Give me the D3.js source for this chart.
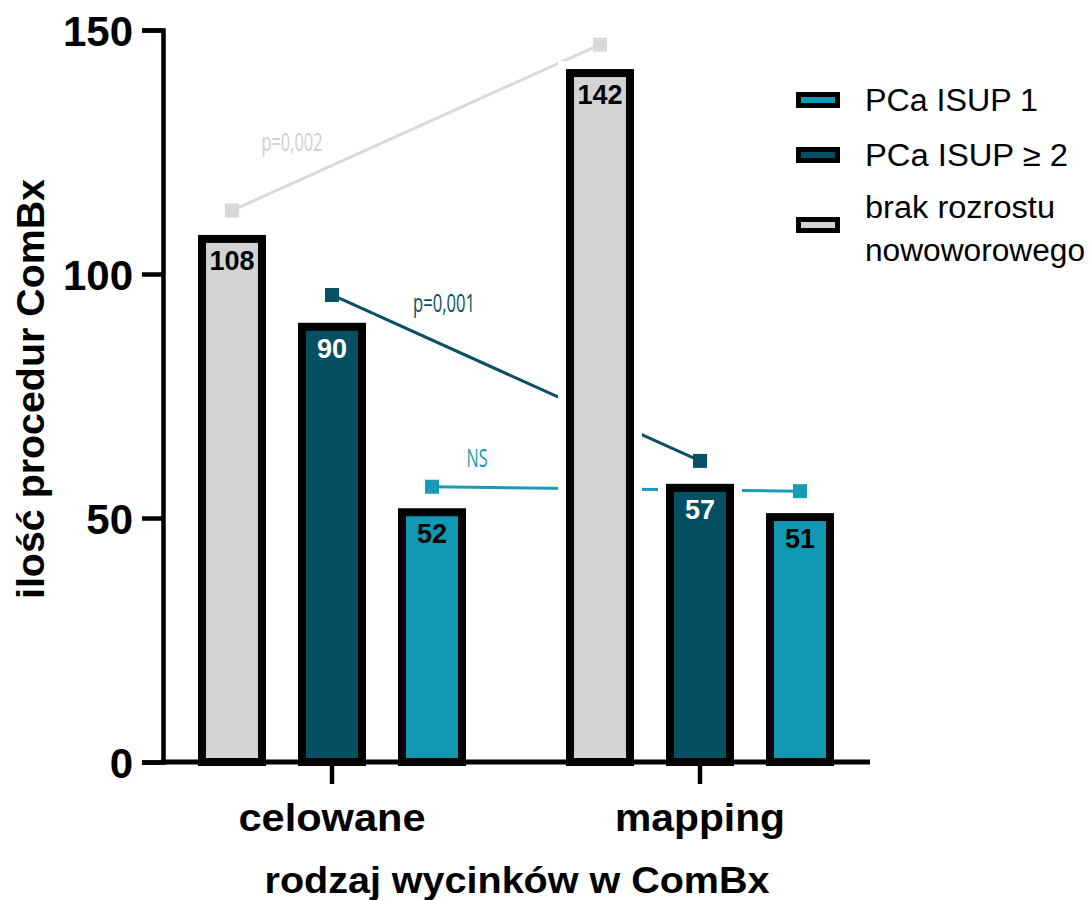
<!DOCTYPE html>
<html>
<head>
<meta charset="utf-8">
<script src="https://cdn.jsdelivr.net/npm/d3@7"></script>
<style>
  body { margin: 0; background: #fff; }
  svg { display: block; }
</style>
</head>
<body>
<svg id="chart" width="1090" height="900"></svg>
<script>
// ---- data ----
const categories = ["celowane", "mapping"];
const seriesKeys = ["brak", "isup2", "isup1"];
const seriesNames = ["brak rozrostu nowoworowego", "PCa ISUP ≥ 2", "PCa ISUP 1"];
const barBrak = [108, 142];
const barIsup2 = [90, 57];
const barIsup1 = [52, 51];
const lineBrak = [113, 147];
const lineIsup2 = [95.7, 61.7];
const lineIsup1 = [56.4, 55.5];
const pLabels = ["p=0,002", "p=0,001", "NS"];
const yTicks = [0, 50, 100, 150];
const legendKeys = ["isup1", "isup2", "brak"];
const legendLines = [["PCa ISUP 1"], ["PCa ISUP ≥ 2"], ["brak rozrostu", "nowoworowego"]];

const barData = { brak: barBrak, isup2: barIsup2, isup1: barIsup1 };
const lineData = { brak: lineBrak, isup2: lineIsup2, isup1: lineIsup1 };
const fills = { brak: "#d3d3d3", isup2: "#054f62", isup1: "#1199b3" };
const lineColors = { brak: "#d9d9d9", isup2: "#0a5064", isup1: "#189cb6" };
const labelColors = { brak: "#000", isup2: "#fff", isup1: "#000" };

const svg = d3.select("#chart");
const axisX = 163, baseY = 762, topY = 30, axisEnd = 870;

const y = d3.scaleLinear().domain([0, 150]).range([baseY, topY]);
const x0 = d3.scaleBand().domain(categories).range([148, 884]).padding(0);
const x1 = d3.scaleBand().domain(seriesKeys).range([-150, 150]).paddingInner(0.32).paddingOuter(0.16);
const cx = (c) => x0(c) + x0.bandwidth() / 2;
const border = 8;

// ---- connecting lines (behind bars) ----
const linesG = svg.append("g");
const lineGen = d3.line().x(d => d.x).y(d => y(d.v));
seriesKeys.forEach(k => {
  const pts = categories.map((c, i) => ({ x: cx(c) + x1(k) + x1.bandwidth() / 2, v: lineData[k][i] }));
  linesG.append("path").attr("d", lineGen(pts)).attr("fill", "none")
    .attr("stroke", lineColors[k]).attr("stroke-width", 3);
  linesG.selectAll(null).data(pts).join("rect")
    .attr("x", d => d.x - 7).attr("y", d => y(d.v) - 7)
    .attr("width", 14).attr("height", 14).attr("fill", lineColors[k]);
});

// p-value labels
const pInfo = [
  { text: pLabels[0], key: "brak", x: 292, v: 127.3, len: 61 },
  { text: pLabels[1], key: "isup2", x: 444, v: 94.3, len: 62 },
  { text: pLabels[2], key: "isup1", x: 477, v: 62.5, len: 21 }
];
svg.append("g").selectAll("text").data(pInfo).join("text")
  .attr("x", d => d.x).attr("y", d => y(d.v))
  .attr("text-anchor", "middle").attr("dominant-baseline", "central")
  .attr("font-family", "'Open Sans', 'Liberation Sans Narrow', sans-serif")
  .attr("font-size", 25)
  .attr("textLength", d => d.len).attr("lengthAdjust", "spacingAndGlyphs")
  .attr("fill", d => d.key === "brak" ? "#cfcfcf" : lineColors[d.key])
  .text(d => d.text);

// ---- bars ----
const bars = [];
categories.forEach((c, i) => seriesKeys.forEach(k => bars.push({ c, k, v: barData[k][i] })));
const barsG = svg.append("g");
// white halos hide lines near bars
barsG.selectAll("rect.halo").data(bars).join("rect").attr("class", "halo")
  .attr("x", d => cx(d.c) + x1(d.k) - 8)
  .attr("y", d => y(d.v) - 8)
  .attr("width", x1.bandwidth() + 16)
  .attr("height", d => baseY - y(d.v) + 8)
  .attr("fill", "#fff");
barsG.selectAll("rect.bar").data(bars).join("rect").attr("class", "bar")
  .attr("x", d => cx(d.c) + x1(d.k) + border / 2)
  .attr("y", d => y(d.v) + border / 2)
  .attr("width", x1.bandwidth() - border)
  .attr("height", d => baseY - y(d.v) - border / 2)
  .attr("fill", d => fills[d.k]).attr("stroke", "#000").attr("stroke-width", border);
barsG.selectAll("text").data(bars).join("text")
  .attr("x", d => cx(d.c) + x1(d.k) + x1.bandwidth() / 2)
  .attr("y", d => y(d.v) + 35)
  .attr("text-anchor", "middle")
  .attr("font-family", "'Liberation Sans', Arial, sans-serif")
  .attr("font-weight", "bold").attr("font-size", 27)
  .attr("fill", d => labelColors[d.k])
  .text(d => d.v);

// ---- axes ----
const yAxis = svg.append("g").attr("transform", `translate(${axisX},0)`)
  .call(d3.axisLeft(y).tickValues(yTicks).tickSize(21).tickPadding(9).tickFormat(d3.format("d")));
yAxis.selectAll("path, line").attr("stroke", "#000").attr("stroke-width", 4.5);
yAxis.selectAll("text").attr("font-family", "'Liberation Sans', Arial, sans-serif")
  .attr("font-weight", "bold").attr("font-size", 42).attr("fill", "#000")
  .attr("dy", "0.36em");

const xAxis = svg.append("g").attr("transform", `translate(0,${baseY})`)
  .call(d3.axisBottom(x0).tickSize(22).tickSizeOuter(0));
xAxis.select(".domain").remove();
xAxis.selectAll("line").attr("stroke", "#000").attr("stroke-width", 4.5);
xAxis.selectAll("text").attr("font-family", "'Liberation Sans', Arial, sans-serif")
  .attr("font-weight", "bold").attr("font-size", 39).attr("fill", "#000")
  .attr("y", 69).attr("dy", 0)
  .attr("textLength", d => d === "celowane" ? 187 : 170).attr("lengthAdjust", "spacingAndGlyphs");
svg.append("line").attr("x1", axisX - 2).attr("x2", axisEnd)
  .attr("y1", baseY).attr("y2", baseY).attr("stroke", "#000").attr("stroke-width", 5);

// axis titles
svg.append("text").attr("x", 517).attr("y", 893).attr("text-anchor", "middle")
  .attr("font-family", "'Liberation Sans', Arial, sans-serif")
  .attr("font-weight", "bold").attr("font-size", 37)
  .attr("textLength", 505).attr("lengthAdjust", "spacingAndGlyphs")
  .text("rodzaj wycinków w ComBx");
svg.append("text").attr("transform", "translate(44,389) rotate(-90)").attr("text-anchor", "middle")
  .attr("font-family", "'Liberation Sans', Arial, sans-serif")
  .attr("font-weight", "bold").attr("font-size", 38)
  .attr("textLength", 420).attr("lengthAdjust", "spacingAndGlyphs")
  .text("ilość procedur ComBx");

// ---- legend ----
const legRowY = [100, 155, 225];
const legTextY = [[100], [155], [207, 250]];
const legTextLen = [[173], [203], [190, 220]];
const leg = svg.append("g");
legendKeys.forEach((k, i) => {
  leg.append("rect").attr("x", 798.5).attr("y", legRowY[i] - 5.5)
    .attr("width", 39).attr("height", 11)
    .attr("fill", fills[k]).attr("stroke", "#000").attr("stroke-width", 5);
  legendLines[i].forEach((t, j) => {
    leg.append("text").attr("x", 865).attr("y", legTextY[i][j])
      .attr("dominant-baseline", "central")
      .attr("font-family", "'Liberation Sans', Arial, sans-serif")
      .attr("font-size", 31).attr("fill", "#000")
      .attr("textLength", legTextLen[i][j]).attr("lengthAdjust", "spacingAndGlyphs")
      .text(t);
  });
});
</script>
</body>
</html>
